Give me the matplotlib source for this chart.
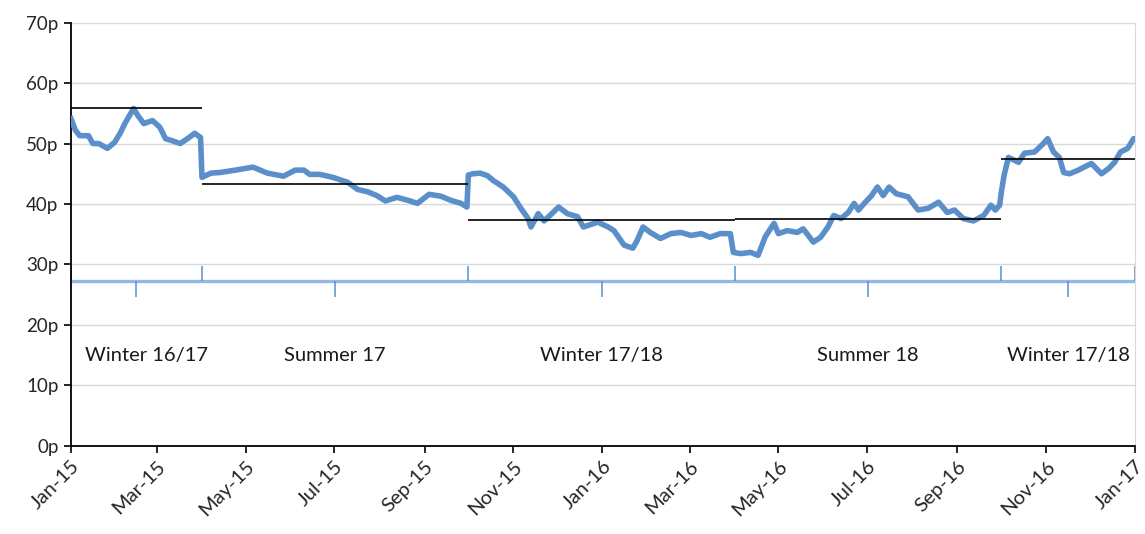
import pandas as pd
import matplotlib
matplotlib.use("Agg")
import matplotlib.pyplot as plt
import matplotlib.dates as mdates

plt.rcParams['font.family'] = ['Lato', 'DejaVu Sans']

# --- Data (days after 1 Jan 2015, price in p/therm) ---
start = pd.Timestamp("2015-01-01")
day_offsets = [0, 3, 6, 12, 15, 19, 25, 30, 34, 37, 43, 46, 50, 56, 61, 65, 69, 75, 80, 85, 89,
               90, 96, 102, 113, 125, 135, 146, 154, 160, 164, 171, 180, 190, 197, 204, 210, 216,
               224, 233, 238, 246, 254, 261, 268, 272,
               273, 276, 281, 286, 290, 297, 304, 309, 314, 316, 321, 325, 329, 335, 341, 348, 352,
               362, 369, 373, 380, 386, 389, 393, 398, 405, 412, 419, 426, 433, 439, 446, 453,
               455, 460, 467, 472, 477, 483, 486, 492, 499, 503, 510, 515, 520, 524, 529, 534, 538,
               541, 545, 550, 554, 558, 562, 567, 575, 582, 589, 596, 602, 607, 613, 620, 627, 632,
               635, 638,
               639, 641, 644, 651, 655, 662, 668, 671, 675, 679, 682, 686, 692, 696, 701, 708, 713,
               717, 721, 726, 730, 731]
price = [54.1, 52.2, 51.3, 51.3, 50.0, 50.0, 49.2, 50.2, 51.8, 53.3, 55.8, 54.6, 53.3, 53.8, 52.7,
         50.8, 50.5, 50.0, 50.8, 51.7, 51.0,
         44.4, 45.1, 45.2, 45.6, 46.1, 45.1, 44.6, 45.6, 45.6, 44.9, 44.9, 44.4, 43.6, 42.4, 42.0,
         41.4, 40.5, 41.1, 40.5, 40.1, 41.6, 41.3, 40.6, 40.1, 39.5,
         44.8, 45.0, 45.1, 44.7, 43.9, 42.8, 41.2, 39.3, 37.6, 36.2, 38.4, 37.2, 38.1, 39.5, 38.4,
         37.9, 36.2, 37.0, 36.2, 35.6, 33.2, 32.7, 34.0, 36.2, 35.3, 34.3, 35.1, 35.3, 34.8, 35.1,
         34.5, 35.1, 35.1,
         32.0, 31.8, 32.0, 31.5, 34.6, 36.8, 35.1, 35.6, 35.3, 35.9, 33.7, 34.5, 36.2, 38.1, 37.6,
         38.6, 40.1, 39.0, 40.1, 41.4, 42.8, 41.4, 42.8, 41.7, 41.2, 39.0, 39.3, 40.3, 38.6, 39.0,
         37.6, 37.2, 38.1, 39.8, 39.0, 39.8,
         41.7, 44.7, 47.7, 46.9, 48.4, 48.6, 50.0, 50.8, 48.6, 47.7, 45.2, 45.0, 45.6, 46.1, 46.7,
         45.0, 45.9, 46.9, 48.6, 49.2, 50.8, 50.8]

season_bounds = ["2015-01-01", "2015-04-01", "2015-10-01", "2016-04-01", "2016-10-01", "2017-01-01"]
season_names = ["Winter 16/17", "Summer 17", "Winter 17/18", "Summer 18", "Winter 17/18"]
season_avg = [55.8, 43.3, 37.3, 37.6, 47.5]

dates = start + pd.to_timedelta(day_offsets, unit="D")
bounds = pd.to_datetime(season_bounds)
mids = [bounds[i] + (bounds[i + 1] - bounds[i]) / 2 for i in range(len(season_names))]

# --- Plot ---
fig = plt.figure(figsize=(11.45, 5.34), dpi=100)
ax = fig.add_axes([0.062, 0.165, 0.9293, 0.7927])

ax.plot(dates, price, color="#5b8fc9", lw=4.0, solid_joinstyle="round", zorder=3)

for i, avg in enumerate(season_avg):
    ax.hlines(avg, bounds[i], bounds[i + 1], color="black", lw=1.2, zorder=4)

# season band (secondary category axis)
band_y = 27.2
ax.hlines(band_y, bounds[0], bounds[-1], color="#94b8e4", lw=2.4, zorder=2)
ax.vlines(bounds, band_y, 29.7, color="#5b8fc9", lw=1.1, zorder=2)
ax.vlines(mids, 24.6, band_y, color="#5b8fc9", lw=1.1, zorder=2)
for i, (m, name) in enumerate(zip(mids, season_names)):
    off = 10 if i == 0 else 0
    ax.annotate(name, (m, 15), xytext=(off, 0), textcoords="offset pixels",
                ha="center", va="center", fontsize=14.5, color="#1a1a1a")

ax.set_xlim(bounds[0], bounds[-1])
ax.set_ylim(0, 70)
ax.set_yticks(range(0, 71, 10))
ax.set_yticklabels([f"{v}p" for v in range(0, 71, 10)])
ax.xaxis.set_major_locator(mdates.MonthLocator(bymonth=[1, 3, 5, 7, 9, 11]))
ax.xaxis.set_major_formatter(mdates.DateFormatter("%b-%y"))
plt.setp(ax.get_xticklabels(), rotation=45, ha="right", rotation_mode="anchor")

ax.grid(axis="y", color="#d9d9d9", lw=1)
ax.set_axisbelow(True)
ax.spines["top"].set_visible(False)
ax.spines["right"].set_color("#d9d9d9")
ax.spines["left"].set_color("black")
ax.spines["bottom"].set_color("black")
ax.spines["left"].set_linewidth(1.3)
ax.spines["bottom"].set_linewidth(1.3)
ax.tick_params(axis="both", length=5, width=1.2, labelsize=13.5, labelcolor="#262626")
ax.tick_params(axis="x", labelsize=14.5)
ax.tick_params(axis="y", pad=4)

fig.savefig("out.png", dpi=100)
